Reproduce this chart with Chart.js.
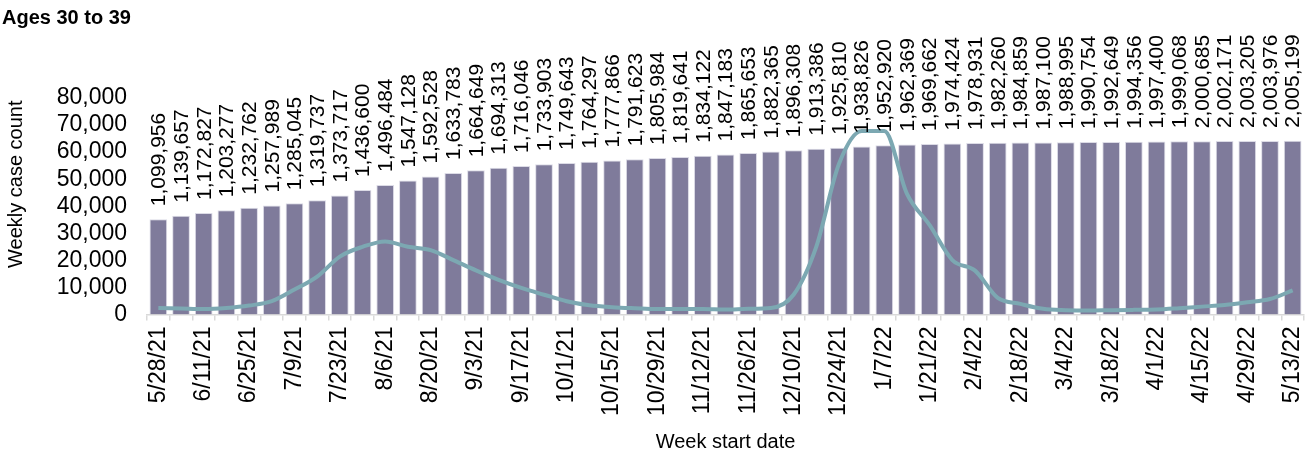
<!DOCTYPE html>
<html>
<head>
<meta charset="utf-8">
<script src="https://cdn.jsdelivr.net/npm/chart.js@4.4.1/dist/chart.umd.min.js"></script>
<style>
  html, body { margin: 0; padding: 0; background: #fff; }
  #wrap { width: 1312px; height: 456px; position: relative; }
</style>
</head>
<body>
<div id="wrap"><canvas id="ageChart"></canvas></div>
<script>
// week start dates (one bar per week)
var weeks = [
  "5/28/21", "6/4/21", "6/11/21", "6/18/21", "6/25/21", "7/2/21", "7/9/21", "7/16/21",
  "7/23/21", "7/30/21", "8/6/21", "8/13/21", "8/20/21", "8/27/21", "9/3/21", "9/10/21",
  "9/17/21", "9/24/21", "10/1/21", "10/8/21", "10/15/21", "10/22/21", "10/29/21", "11/5/21",
  "11/12/21", "11/19/21", "11/26/21", "12/3/21", "12/10/21", "12/17/21", "12/24/21", "12/31/21",
  "1/7/22", "1/14/22", "1/21/22", "1/28/22", "2/4/22", "2/11/22", "2/18/22", "2/25/22",
  "3/4/22", "3/11/22", "3/18/22", "3/25/22", "4/1/22", "4/8/22", "4/15/22", "4/22/22",
  "4/29/22", "5/6/22", "5/13/22"
];

// cumulative counts (bars, labelled)
var cumulative = [
  1099956, 1139657, 1172827, 1203277, 1232762, 1257989, 1285045, 1319737, 1373717, 1436600,
  1496484, 1547128, 1592528, 1633783, 1664649, 1694313, 1716046, 1733903, 1749643, 1764297,
  1777866, 1791623, 1805984, 1819641, 1834122, 1847183, 1865653, 1882365, 1896308, 1913386,
  1925810, 1938826, 1952920, 1962369, 1969662, 1974424, 1978931, 1982260, 1984859, 1987100,
  1988995, 1990754, 1992649, 1994356, 1997400, 1999068, 2000685, 2002171, 2003205, 2003976,
  2005199
];

// weekly case count (line)
var weekly = [
  2400, 2200, 2000, 2400, 3300, 4900, 9200, 14000, 21400, 25000,
  27000, 25000, 23800, 20100, 16300, 12800, 9800, 7300, 4900, 3400,
  2700, 2300, 2000, 2000, 2000, 1800, 2100, 2400, 7300, 25000,
  55600, 67800, 67800, 44600, 33000, 20100, 16200, 6100, 3900, 2100,
  1600, 1450, 1600, 1700, 1800, 2300, 2900, 3500, 4500, 5700,
  8900
];

var yTicks = [0, 10000, 20000, 30000, 40000, 50000, 60000, 70000, 80000];

var fmt = new Intl.NumberFormat("en-US");
var FONT = "'Liberation Sans', Arial, sans-serif";

// rotated value above each bar, plus the y axis title (sits a bit above centre in the original)
var barLabels = {
  id: "barLabels",
  afterDatasetsDraw: function (chart) {
    var meta = chart.getDatasetMeta(1);
    var ctx = chart.ctx;
    ctx.save();
    ctx.font = "21px " + FONT;
    ctx.fillStyle = "#000";
    ctx.textAlign = "left";
    ctx.textBaseline = "middle";
    meta.data.forEach(function (bar, i) {
      ctx.save();
      ctx.translate(bar.x + 1, bar.y - 13);
      ctx.rotate(-Math.PI / 2);
      ctx.fillText(fmt.format(cumulative[i]), 0, 0);
      ctx.restore();
    });

    var area = chart.chartArea;
    ctx.font = "20px " + FONT;
    ctx.textAlign = "center";
    ctx.translate(16, (area.top + area.bottom) / 2 - 22);
    ctx.rotate(-Math.PI / 2);
    ctx.fillText("Weekly case count", 0, 0);
    ctx.restore();
  }
};

var ctx = document.getElementById("ageChart").getContext("2d");
var ageChart = new Chart(ctx, {
  data: {
    labels: weeks,
    datasets: [
      {
        type: "line",
        label: "Weekly case count",
        data: weekly,
        yAxisID: "y",
        borderColor: "#7ca8b2",
        borderWidth: 4,
        pointRadius: 0,
        cubicInterpolationMode: "monotone",
        order: 0
      },
      {
        type: "bar",
        label: "Cumulative",
        data: cumulative,
        yAxisID: "y2",
        backgroundColor: "#7f7b9b",
        borderColor: "#dcdbe6",
        borderWidth: 1,
        barPercentage: 0.78,
        categoryPercentage: 1,
        order: 1
      }
    ]
  },
  options: {
    responsive: true,
    maintainAspectRatio: false,
    animation: false,
    layout: { padding: { left: 2, right: 8, top: 4, bottom: 2 } },
    plugins: {
      legend: { display: false },
      tooltip: { enabled: false },
      title: {
        display: true,
        text: "Ages 30 to 39",
        align: "start",
        color: "#000",
        font: { family: FONT, size: 20, weight: "bold" },
        padding: { top: 2, bottom: 68 }
      }
    },
    scales: {
      x: {
        afterFit: function (axis) {
          axis.paddingLeft = 0;
          axis.paddingRight = 0;
        },
        grid: {
          display: true,
          drawOnChartArea: false,
          tickLength: 6,
          color: "#d9d9d9",
          lineWidth: 1.5
        },
        border: { display: true, color: "#d9d9d9", width: 1.5 },
        ticks: {
          autoSkip: false,
          minRotation: 90,
          maxRotation: 90,
          padding: 6,
          color: "#000",
          font: { family: FONT, size: 23 },
          callback: function (value, index) {
            return index % 2 === 0 ? weeks[index] : "";
          }
        },
        title: {
          display: true,
          text: "Week start date",
          color: "#000",
          font: { family: FONT, size: 20 },
          padding: { top: 8, bottom: 0 }
        }
      },
      y: {
        min: 0,
        max: 80000,
        afterBuildTicks: function (axis) {
          axis.ticks = yTicks.map(function (v) { return { value: v }; });
        },
        afterFit: function (axis) {
          axis.width = 145;
        },
        grid: { display: false, drawTicks: false },
        border: { display: false },
        ticks: {
          autoSkip: false,
          padding: 20,
          color: "#000",
          font: { family: FONT, size: 23 },
          callback: function (value) { return fmt.format(value); }
        }
      },
      y2: {
        display: false,
        min: 0,
        max: 2500000
      }
    }
  },
  plugins: [barLabels]
});
</script>
</body>
</html>
